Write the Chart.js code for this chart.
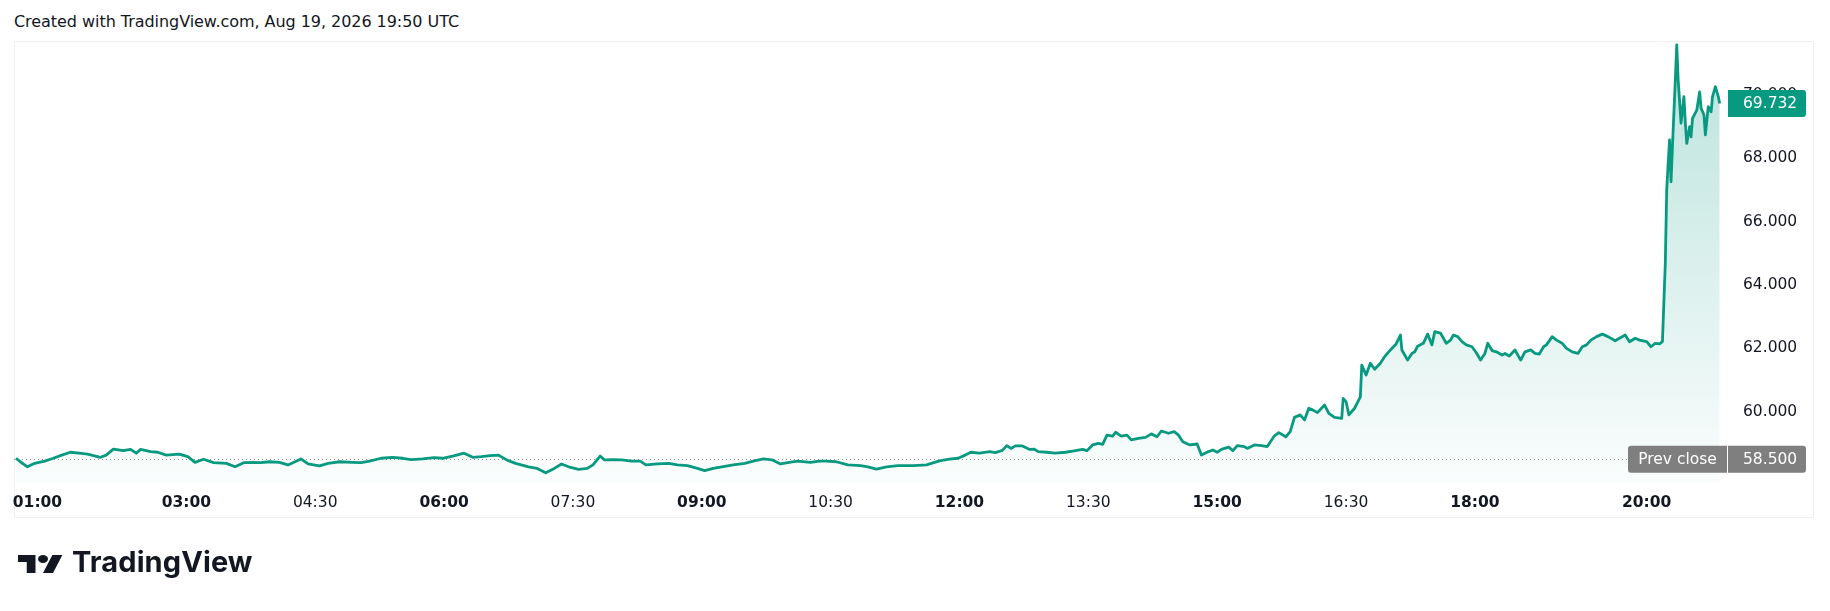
<!DOCTYPE html>
<html>
<head>
<meta charset="utf-8">
<script src="https://cdn.jsdelivr.net/npm/chart.js@4/dist/chart.umd.min.js"></script>
<style>
  html, body { margin: 0; padding: 0; background: #ffffff; }
  body { width: 1830px; height: 611px; position: relative; overflow: hidden; }
  #wrap { position: absolute; left: 0; top: 0; width: 1830px; height: 611px; }
  #hdr { position: absolute; left: 14px; top: 12px; font: 16px "DejaVu Sans", sans-serif; line-height: 20px; color: #131722; white-space: nowrap; letter-spacing: -0.05px; }
  #logo { position: absolute; left: 18px; top: 546px; height: 34px; white-space: nowrap; }
  #logo svg { position: absolute; left: 0; top: 9px; }
  #logo span { position: absolute; left: 54px; top: 0; font: 700 29px Inter, sans-serif; line-height: 32px; color: #131722; letter-spacing: 0.1px; }
</style>
</head>
<body>
<div id="hdr">Created with TradingView.com, Aug 19, 2026 19:50 UTC</div>
<div id="wrap"><canvas id="c" width="1830" height="611"></canvas></div>
<div id="logo">
  <svg width="45" height="18" viewBox="0 4 36 18" preserveAspectRatio="none"><path d="M14 22H7V11H0V4h14v18zM28 22h-8l7.5-18h8L28 22z" fill="#131722"/><circle cx="20" cy="8" r="4" fill="#131722"/></svg>
  <span>TradingView</span>
</div>
<script>
// ---- data (bar index = 1-minute bars since start of session) ----
const barIndex = [
  0,3,8,13,20,26,32,38,44,50,59,63,68,75,80,84,87,94,99,105,114,120,125,131,138,147,153,159,165,171,177,184,190,199,204,212,218,226,235,241,247,255,263,270,276,284,292,298,305,313,319,325,331,337,343,349,358,364,370,376,381,386,393,399,403,408,411,417,423,430,436,440,448,456,462,469,476,481,487,493,501,509,515,522,528,534,540,546,555,561,566,573,581,590,595,601,608,616,
  627,636,641,645,652,658,663,667,673,680,684,689,692,695,698,703,708,711,714,720,726,733,739,745,748,752,756,759,762,766,768,772,776,779,784,789,793,797,800,805,809,812,815,820,825,828,833,836,839,842,847,850,853,858,860,865,870,874,879,882,887,890,893,897,900,903,906,909,914,917,921,926,927,929,931,935,939,940,943,946,949,953,956,960,964,967,
  968,970,972,975,977,979,983,986,989,991,995,999,1002,1004,1007,1010,1013,1017,1020,1023,1026,1028,1031,1034,1038,1040,1043,1047,1051,1054,1058,1061,1064,1067,1069,1073,1076,1080,1083,1087,1091,1094,1097,1100,1104,1108,1112,1117,1120,1124,1127,1131,1134,1139,1142,1145,1148,1150,
  1152,1153,1154,1155,1156,1157,1159,1160,1161,1163,1165,1166,1167,1169,1170,1171,1174,1176,1177,1179,1180,1182,1184,1185,1187,1189,1190
];
const price = [
  58.53,58.42,58.26,58.37,58.44,58.53,58.63,58.72,58.69,58.66,58.56,58.63,58.82,58.77,58.81,58.69,58.81,58.74,58.72,58.63,58.66,58.58,58.40,58.50,58.39,58.37,58.26,58.39,58.40,58.39,58.42,58.40,58.32,58.51,58.35,58.29,58.37,58.42,58.40,58.39,58.44,58.53,58.56,58.53,58.49,58.51,58.55,58.53,58.60,58.69,58.56,58.58,58.61,58.63,58.47,58.37,58.26,58.21,58.07,58.21,58.35,58.26,58.18,58.21,58.32,58.60,58.48,58.49,58.48,58.44,58.44,58.32,58.35,58.37,58.32,58.30,58.21,58.14,58.21,58.26,58.32,58.37,58.44,58.51,58.48,58.35,58.40,58.44,58.40,58.44,58.44,58.42,58.32,58.30,58.26,58.19,58.26,58.30,
  58.30,58.32,58.39,58.45,58.50,58.53,58.63,58.72,58.69,58.74,58.71,58.78,58.93,58.84,58.92,58.92,58.81,58.82,58.74,58.72,58.69,58.72,58.76,58.81,58.77,58.95,59.00,58.97,59.26,59.23,59.35,59.23,59.26,59.11,59.16,59.19,59.30,59.21,59.39,59.32,59.37,59.26,59.05,58.95,58.98,58.63,58.74,58.79,58.72,58.81,58.88,58.77,58.93,58.90,58.84,58.95,58.93,58.90,59.24,59.34,59.21,59.37,59.82,59.90,59.74,60.11,60.05,59.97,60.21,59.95,59.82,59.79,60.42,60.32,59.90,60.11,60.47,61.47,61.16,61.53,61.34,61.53,61.74,61.95,62.14,62.42,
  61.95,61.79,61.63,61.84,61.89,62.07,62.16,62.45,62.11,62.53,62.48,62.16,62.26,62.42,62.37,62.21,62.11,62.05,61.86,61.63,61.84,62.16,61.93,61.89,61.79,61.84,61.76,61.95,61.63,61.89,61.95,61.84,61.82,62.05,62.11,62.37,62.26,62.16,62.00,61.89,61.84,62.05,62.11,62.26,62.37,62.45,62.37,62.24,62.32,62.42,62.21,62.32,62.26,62.21,62.05,62.16,62.14,62.21,
  64.68,67.00,67.84,68.58,67.26,68.37,70.47,71.58,70.47,69.11,69.95,69.11,68.47,69.00,68.68,69.26,69.52,70.10,69.58,69.37,68.74,69.63,69.47,69.95,70.26,69.95,69.732
];
const tickBars   = [15, 119, 209, 299, 389, 479, 569, 659, 749, 839, 929, 1019, 1139];
const tickLabels = ["01:00","03:00","04:30","06:00","07:30","09:00","10:30","12:00","13:30","15:00","16:30","18:00","20:00"];
const tickBold   = [true, true, false, true, false, true, false, true, false, true, false, true, true];
const priceTicks = [60, 62, 64, 66, 68, 70];
const prevClose = 58.5;
const lastPrice = 69.732;

const GREEN = '#089981';
const FONT = '"DejaVu Sans", sans-serif';

const points = barIndex.map((b, i) => ({ x: b, y: price[i] }));

const framePlugin = {
  id: 'frame',
  beforeDraw(chart) {
    const c = chart.ctx;
    c.save();
    c.strokeStyle = '#eef0f3';
    c.lineWidth = 1;
    c.strokeRect(14.5, 41.5, 1799, 476);
    c.restore();
  },
  beforeDatasetsDraw(chart) {
    const c = chart.ctx, y = Math.round(chart.scales.y.getPixelForValue(prevClose)) + 0.5;
    c.save();
    c.strokeStyle = '#8c8f99';
    c.lineWidth = 1;
    c.setLineDash([1, 3]);
    c.beginPath();
    c.moveTo(chart.chartArea.left, y);
    c.lineTo(1628, y);
    c.stroke();
    c.restore();
  },
  afterDraw(chart) {
    const c = chart.ctx, ys = chart.scales.y;
    function box(x0, x1, yc, h, col, rl, rr) {
      const y0 = yc - h / 2;
      c.fillStyle = col;
      c.beginPath();
      c.roundRect(x0, y0, x1 - x0, h, [rl, rr, rr, rl]);
      c.fill();
    }
    c.save();
    c.font = '15.5px ' + FONT;
    c.textBaseline = 'middle';
    // last price label
    const yl = ys.getPixelForValue(lastPrice);
    box(1728, 1806, yl, 27, GREEN, 0, 3);
    c.fillStyle = '#ffffff';
    c.textAlign = 'left';
    c.fillText(lastPrice.toFixed(3), 1743, yl + 1);
    // prev close label
    const yp = ys.getPixelForValue(prevClose);
    box(1628, 1727, yp, 27, '#7f7f7f', 3, 0);
    box(1728, 1806, yp, 27, '#7f7f7f', 0, 3);
    c.fillStyle = '#ffffff';
    c.textAlign = 'center';
    c.fillText('Prev close', 1677.5, yp + 1);
    c.textAlign = 'left';
    c.fillText(prevClose.toFixed(3), 1743, yp + 1);
    c.restore();
  }
};

const ctx = document.getElementById('c').getContext('2d');
new Chart(ctx, {
  type: 'line',
  data: {
    datasets: [{
      data: points,
      borderColor: GREEN,
      borderWidth: 2.8,
      borderJoinStyle: 'round',
      pointRadius: 0,
      tension: 0,
      fill: 'start',
      backgroundColor(context) {
        const a = context.chart.chartArea;
        if (!a) return 'rgba(8,153,129,0.1)';
        const g = context.chart.ctx.createLinearGradient(0, a.top, 0, a.bottom);
        g.addColorStop(0, 'rgba(8,153,129,0.28)');
        g.addColorStop(1, 'rgba(8,153,129,0.02)');
        return g;
      }
    }]
  },
  options: {
    responsive: false,
    animation: false,
    layout: { padding: { left: 14, top: 42, right: 16, bottom: 93 } },
    plugins: { legend: { display: false }, tooltip: { enabled: false } },
    scales: {
      x: {
        type: 'linear',
        min: -1.4,
        max: 1195.8,
        grid: { display: false, drawTicks: false },
        border: { display: false },
        afterBuildTicks(scale) { scale.ticks = tickBars.map(v => ({ value: v })); },
        afterFit(scale) { scale.height = 35; },
        ticks: {
          autoSkip: false,
          maxRotation: 0,
          padding: 11,
          color: '#131722',
          font(ctx) {
            const i = tickBars.indexOf(ctx.tick ? ctx.tick.value : -1);
            return { family: FONT, size: 15.5, weight: (i >= 0 && tickBold[i]) ? 'bold' : 'normal' };
          },
          callback(v) { const i = tickBars.indexOf(v); return i >= 0 ? tickLabels[i] : ''; }
        }
      },
      y: {
        position: 'right',
        min: 57.749,
        max: 71.672,
        grid: { display: false, drawTicks: false },
        border: { display: false },
        afterBuildTicks(scale) { scale.ticks = priceTicks.map(v => ({ value: v })); },
        afterFit(scale) { scale.width = 86; },
        ticks: {
          padding: 15,
          color: '#131722',
          font: { family: FONT, size: 15.5 },
          callback(v) { return v.toFixed(3); }
        }
      }
    }
  },
  plugins: [framePlugin]
});
</script>
</body>
</html>
